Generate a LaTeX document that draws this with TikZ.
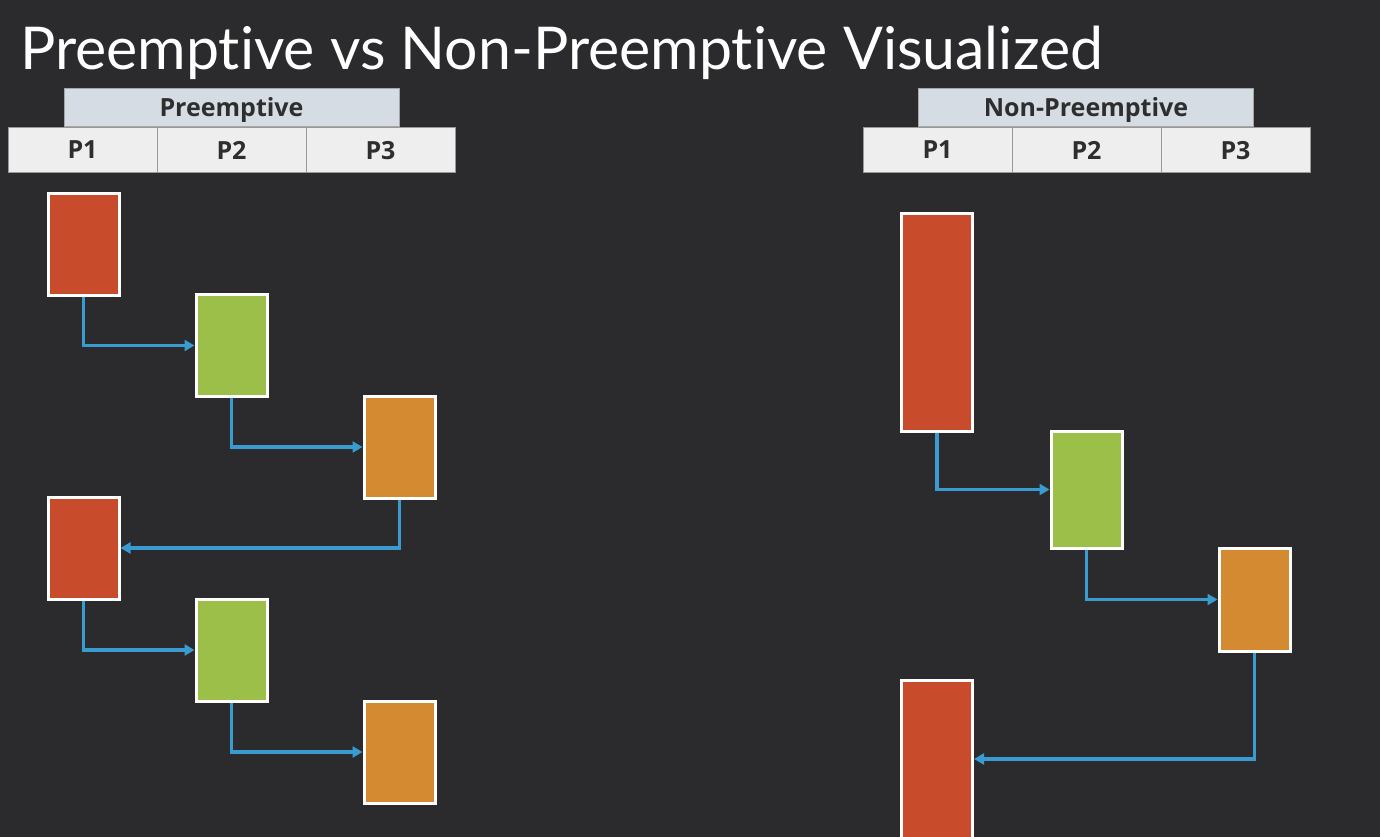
\documentclass[tikz,border=0pt]{standalone}
\usepackage{fontspec}
\usepackage{xcolor}
\usetikzlibrary{arrows.meta,positioning}
\newfontfamily\titlefont[Ligatures=NoCommon]{Lato}
\newfontfamily\labelfont{Open Sans}

\definecolor{bgdark}{HTML}{2B2B2D}
\definecolor{hdrblue}{HTML}{D6DCE4}
\definecolor{cellgray}{HTML}{EEEEEE}
\definecolor{celltext}{HTML}{2E2E2E}
\definecolor{procred}{HTML}{C84B2B}
\definecolor{procgreen}{HTML}{9BBF48}
\definecolor{procorange}{HTML}{D48A30}
\definecolor{flowblue}{HTML}{3A9BD0}

\begin{document}
\begin{tikzpicture}[x=1pt, y=-1pt,
    header/.style={rectangle, fill=hdrblue, draw=gray!70, line width=0.8pt, inner sep=0pt, text depth=0pt,
      minimum width=335pt, minimum height=38pt, font=\labelfont\bfseries\fontsize{25}{27}\selectfont, text=celltext},
    cell/.style={rectangle, fill=cellgray, draw=gray!80, line width=0.8pt, inner sep=0pt, text depth=0pt,
      minimum width=149pt, minimum height=45pt, font=\labelfont\bfseries\fontsize{25}{27}\selectfont, text=celltext},
    proc/.style={rectangle, draw=white, line width=3pt, inner sep=0pt, minimum width=71pt},
    flow/.style={draw=flowblue, line width=3.8pt, -{Triangle[length=10pt,width=11pt]}}]

      % Background and frame
      \fill[bgdark] (0,0) rectangle (1380,837);
      \useasboundingbox (0,0) rectangle (1380,837);
      \clip (0,0) rectangle (1380,837);

      % Title
      \node[anchor=base west, inner sep=0pt, text=white, font=\titlefont\fontsize{59}{62}\selectfont] (title) at (20,70) {Preemptive vs Non-Preemptive Visualized};

      % Preemptive table
      \node[header] (prehdr) at (231.5,107) {Preemptive};
      \node[cell] (prep1) at (82.5,150) {P1};
      \node[cell] (prep2) at (231.5,150) {P2};
      \node[cell] (prep3) at (380.5,150) {P3};

      % Preemptive processes
      \node[proc, fill=procred, minimum height=102pt] (prea) at (83.5,244) {};
      \node[proc, fill=procgreen, minimum height=102pt] (preb) at (231.5,345.5) {};
      \node[proc, fill=procorange, minimum height=102pt] (prec) at (399.5,447) {};
      \node[proc, fill=procred, minimum height=102pt] (pred) at (83.5,548) {};
      \node[proc, fill=procgreen, minimum height=102pt] (pree) at (231.5,650) {};
      \node[proc, fill=procorange, minimum height=102pt] (pref) at (399.5,752) {};

      % Preemptive arrows
      \draw[flow] (prea.south) |- (preb.west);
      \draw[flow] (preb.south) |- (prec.west);
      \draw[flow] (prec.south) |- (pred.east);
      \draw[flow] (pred.south) |- (pree.west);
      \draw[flow] (pree.south) |- (pref.west);

      % Non-preemptive table
      \node[header] (nonhdr) at (1086,107) {Non-Preemptive};
      \node[cell] (nonp1) at (937.5,150) {P1};
      \node[cell] (nonp2) at (1086.5,150) {P2};
      \node[cell] (nonp3) at (1235.5,150) {P3};

      % Non-preemptive processes
      \node[proc, fill=procred, minimum height=218pt] (nona) at (937,322) {};
      \node[proc, fill=procgreen, minimum height=117pt] (nonb) at (1086.5,489.5) {};
      \node[proc, fill=procorange, minimum height=103pt] (nonc) at (1254.5,599.5) {};
      \node[proc, fill=procred, minimum height=158pt] (nond) at (937,759) {};

      % Non-preemptive arrows
      \draw[flow] (nona.south) |- (nonb.west);
      \draw[flow] (nonb.south) |- (nonc.west);
      \draw[flow] (nonc.south) |- (nond.east);
    \end{tikzpicture}
\end{document}
